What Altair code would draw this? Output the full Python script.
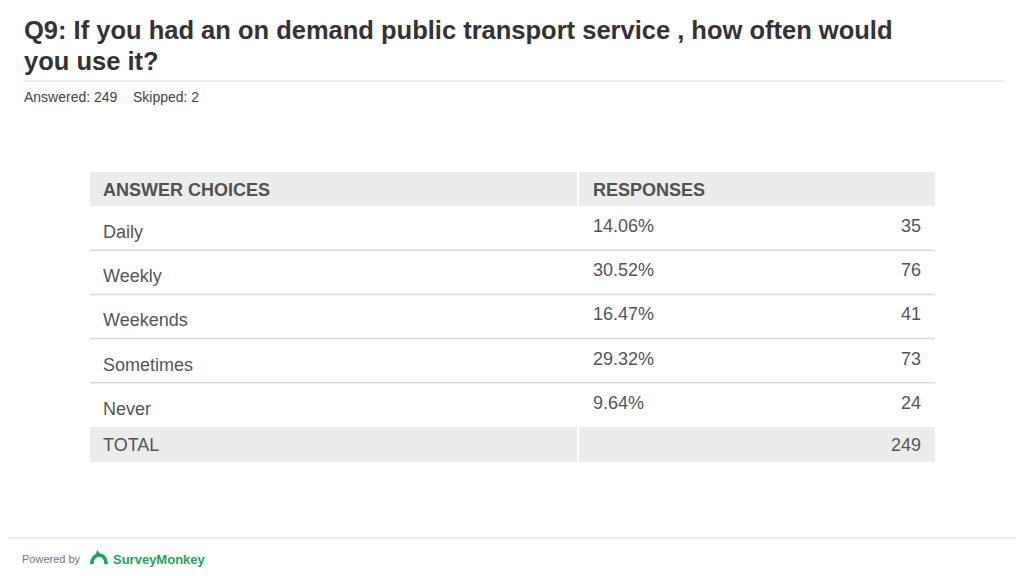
import altair as alt
import pandas as pd

# ---------------- data ----------------
question = ["Q9: If you had an on demand public transport service , how often would",
            "you use it?"]
answered = 249
skipped = 2
headers = ["ANSWER CHOICES", "RESPONSES"]
choices = ["Daily", "Weekly", "Weekends", "Sometimes", "Never"]
percents = ["14.06%", "30.52%", "16.47%", "29.32%", "9.64%"]
counts = [35, 76, 41, 73, 24]
total_label = "TOTAL"
total = 249
powered_by = "Powered by"
brand = "SurveyMonkey"

# ---------------- layout ----------------
W, H = 1008, 560
FONT = "Liberation Sans"
L0, L1, R0, R1 = 82, 569, 571, 927
HEAD_T, HEAD_B = 164, 198
ROW_H = 44.2
TOT_T = HEAD_B + ROW_H * len(choices)
TOT_B = TOT_T + 35
GREY_BG = "#ececec"
LINE = "#d9d9d9"
TXT = "#555555"
GREEN = "#1fa35f"

xs = alt.Scale(domain=[0, W], nice=False, zero=False)
ys = alt.Scale(domain=[0, H], nice=False, zero=False, reverse=True)


def X(f):
    return alt.X(f, type="quantitative", scale=xs, axis=None)


def Y(f):
    return alt.Y(f, type="quantitative", scale=ys, axis=None)


# header / total cells
cells = pd.DataFrame([
    {"x": L0, "x2": L1, "y": HEAD_T, "y2": HEAD_B},
    {"x": R0, "x2": R1, "y": HEAD_T, "y2": HEAD_B},
    {"x": L0, "x2": L1, "y": TOT_T, "y2": TOT_B},
    {"x": R0, "x2": R1, "y": TOT_T, "y2": TOT_B},
])
cell_layer = alt.Chart(cells).mark_rect(color=GREY_BG).encode(
    x=X("x"), x2="x2", y=Y("y"), y2="y2")

# header text
head_df = pd.DataFrame({"t": headers, "x": [L0 + 13, R0 + 14], "y": [HEAD_B - 10, HEAD_B - 10]})
head_layer = alt.Chart(head_df).mark_text(
    font=FONT, fontSize=18, fontWeight="bold", color="#525252", align="left",
    baseline="alphabetic").encode(x=X("x"), y=Y("y"), text="t:N")

# body rows
rows = pd.DataFrame({
    "label": choices,
    "pct": percents,
    "count": [str(c) for c in counts],
    "top": [HEAD_B + i * ROW_H for i in range(len(choices))],
})
rows["ylab"] = rows["top"] + 32
rows["yval"] = rows["top"] + 26
rows["bottom"] = rows["top"] + ROW_H
rows["lx"] = L0 + 13
rows["px"] = R0 + 14
rows["cx"] = R1 - 14
rows["rx0"] = L0
rows["rx1"] = R1

label_layer = alt.Chart(rows).mark_text(
    font=FONT, fontSize=18, color=TXT, align="left", baseline="alphabetic").encode(
    x=X("lx"), y=Y("ylab"), text="label:N")
pct_layer = alt.Chart(rows).mark_text(
    font=FONT, fontSize=18, color=TXT, align="left", baseline="alphabetic").encode(
    x=X("px"), y=Y("yval"), text="pct:N")
cnt_layer = alt.Chart(rows).mark_text(
    font=FONT, fontSize=18, color=TXT, align="right", baseline="alphabetic").encode(
    x=X("cx"), y=Y("yval"), text="count:N")
sep_layer = alt.Chart(rows.iloc[:-1]).mark_rule(color=LINE, strokeWidth=1.5).encode(
    x=X("rx0"), x2="rx1", y=Y("bottom"))

# total row
tot_df = pd.DataFrame({"t": [total_label, str(total)], "x": [L0 + 13, R1 - 14],
                       "y": [TOT_T + 24, TOT_T + 24]})
tot_l = alt.Chart(tot_df.iloc[:1]).mark_text(
    font=FONT, fontSize=18, color=TXT, align="left", baseline="alphabetic").encode(
    x=X("x"), y=Y("y"), text="t:N")
tot_r = alt.Chart(tot_df.iloc[1:]).mark_text(
    font=FONT, fontSize=18, color=TXT, align="right", baseline="alphabetic").encode(
    x=X("x"), y=Y("y"), text="t:N")

# title, subtitle
title_df = pd.DataFrame({"t": question, "x": [16, 16], "y": [31, 62]})
title_layer = alt.Chart(title_df).mark_text(
    font=FONT, fontSize=25.5, fontWeight="bold", color="#333333", align="left",
    baseline="alphabetic").encode(x=X("x"), y=Y("y"), text="t:N")

sub_df = pd.DataFrame({"t": [f"Answered: {answered}", f"Skipped: {skipped}"],
                       "x": [16, 125], "y": [94, 94]})
sub_layer = alt.Chart(sub_df).mark_text(
    font=FONT, fontSize=14, color="#444444", align="left", baseline="alphabetic").encode(
    x=X("x"), y=Y("y"), text="t:N")

rules_df = pd.DataFrame({"x": [16, 0], "x2": [997, W], "y": [73, 530]})
rule_layer = alt.Chart(rules_df).mark_rule(color="#dddddd", strokeWidth=1.2).encode(
    x=X("x"), x2="x2", y=Y("y"))

# footer
foot_df = pd.DataFrame({"t": [powered_by], "x": [14], "y": [555]})
foot_layer = alt.Chart(foot_df).mark_text(
    font=FONT, fontSize=11, color="#777777", align="left", baseline="alphabetic").encode(
    x=X("x"), y=Y("y"), text="t:N")
brand_df = pd.DataFrame({"t": [brand], "x": [105], "y": [556]})
brand_layer = alt.Chart(brand_df).mark_text(
    font=FONT, fontSize=13, fontWeight="bold", color=GREEN, align="left",
    baseline="alphabetic").encode(x=X("x"), y=Y("y"), text="t:N")
logo_df = pd.DataFrame({"x": [91], "y": [550]})
logo_path = ("M-1,0.7 C-1,0.1 -0.7,-0.3 -0.35,-0.45 L-0.2,-0.9 L0.1,-0.5 "
             "C0.6,-0.5 1,0.0 1,0.7 L0.6,0.7 C0.6,0.2 0.35,-0.1 0,-0.1 "
             "C-0.35,-0.1 -0.6,0.2 -0.6,0.7 Z")
logo_layer = alt.Chart(logo_df).mark_point(
    shape=logo_path, filled=True, color=GREEN, opacity=1, size=320).encode(
    x=X("x"), y=Y("y"))

chart = alt.layer(
    cell_layer, sep_layer, rule_layer, head_layer, label_layer, pct_layer, cnt_layer,
    tot_l, tot_r, title_layer, sub_layer, foot_layer, brand_layer, logo_layer,
).properties(width=W, height=H, padding=0, background="white",
             autosize=alt.AutoSizeParams(type="none")).configure_view(stroke=None)

chart.save("out.html", embed_options={"renderer": "svg", "actions": False})
